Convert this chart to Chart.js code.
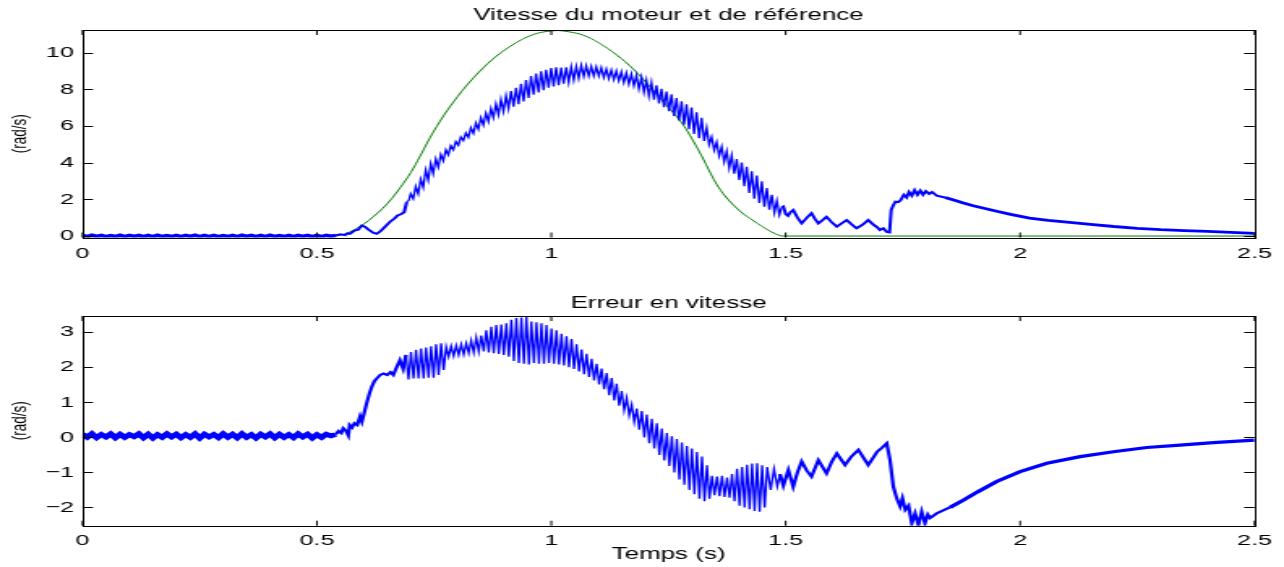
<!DOCTYPE html>
<html><head><meta charset="utf-8">
<script src="https://cdn.jsdelivr.net/npm/chart.js@4.4.0/dist/chart.umd.min.js"></script>
<style>
html,body{margin:0;padding:0;background:#fff;width:1284px;height:567px;overflow:hidden;position:relative}
canvas{position:absolute;left:0;display:block}
</style></head><body>
<canvas id="c1" width="792" height="280" style="top:0px;width:1284px;height:280px"></canvas>
<canvas id="c2" width="792" height="287" style="top:280px;width:1284px;height:287px"></canvas>
<script>
// ---------- ticks ----------
const tickX = [0, 0.5, 1, 1.5, 2, 2.5];
const tickYTop = [0, 2, 4, 6, 8, 10];
const tickYBot = [-2, -1, 0, 1, 2, 3];

// ---------- reference speed (green) ----------
const refT = [0, 0.535, 0.56, 0.58, 0.6, 0.62, 0.64, 0.66, 0.678, 0.7, 0.72, 0.741, 0.77, 0.8, 0.82, 0.85, 0.88, 0.91, 0.94, 0.97, 1.0, 1.015, 1.04, 1.068, 1.1, 1.14, 1.175, 1.2105, 1.245, 1.2816, 1.3, 1.32, 1.34, 1.353, 1.37, 1.39, 1.41, 1.424, 1.44, 1.46, 1.48, 1.494, 2.5];
const refV = [0, 0, 0.12, 0.35, 0.65, 1.05, 1.5, 2.05, 2.65, 3.45, 4.35, 5.35, 6.55, 7.6, 8.23, 9.05, 9.75, 10.3, 10.75, 11.05, 11.18, 11.2, 11.12, 10.95, 10.55, 9.86, 9.1, 8.14, 7.15, 6.05, 5.3, 4.4, 3.4, 2.8, 2.2, 1.65, 1.2, 0.96, 0.68, 0.36, 0.1, 0, 0];

// ---------- motor speed (blue) ----------
const speedFlatStart = 0, speedFlatStep = 0.01;
const speedFlat = [0.03,-0.03,0.04,-0.02,0.03,-0.04,0.02,-0.03,0.04,-0.03,0.03,-0.02,0.03,-0.04,0.03,-0.03,0.04,-0.03,0.02,-0.03,0.03,-0.03,0.03,-0.02,0.04,-0.03,0.03,-0.03,0.03,-0.04,0.02,-0.03,0.03,-0.03,0.04,-0.02,0.03,-0.03,0.03,-0.03,0.04,-0.03,0.02,-0.03,0.03,-0.04,0.03,-0.02,0.03,-0.03,0.03,-0.03,0.03,-0.01];
const speedRiseT = [0.54,0.55,0.56,0.565,0.57,0.58,0.588,0.596,0.603,0.61,0.62,0.6275,0.635,0.645,0.656,0.665,0.672,0.68,0.686,0.6915,0.696];
const speedRiseV = [0.03,0.1,0.05,0.14,0.12,0.3,0.35,0.58,0.5,0.35,0.18,0.12,0.25,0.5,0.78,0.95,1.12,1.2,1.3,1.85,1.95];
const speedOscStart = 0.70, speedOscStep = 0.00535;
const speedOsc = [
 2.30,2.03,2.7,2.3,3.1,2.65,3.6,3.05,3.95,3.4,
 4.2,3.75,4.45,4.1,4.7,4.42,4.92,4.7,5.15,4.95,
 5.4,5.2,5.62,5.38,5.9,5.6,6.17,5.82,6.45,6.05,
 6.7,6.25,6.95,6.45,7.2,6.62,7.45,6.8,7.65,6.95,
 7.9,7.05,8.08,7.18,8.3,7.33,8.5,7.52,8.72,7.7,
 8.85,7.82,8.98,7.95,9.06,8.08,9.15,8.15,9.2,8.22,
 9.18,8.3,9.2,8.38,9.22,8.5,9.25,8.6,9.3,8.7,
 9.28,8.72,9.25,8.72,9.22,8.72,9.18,8.65,9.1,8.58,
 9.05,8.53,9.0,8.47,8.95,8.37,8.88,8.28,8.83,8.2,
 8.75,8.02,8.65,7.83,8.5,7.62,8.37,7.43,8.22,7.23,
 8.03,7.02,7.87,6.8,7.72,6.54,7.52,6.3,7.35,6.07,
 7.18,5.82,7.0,5.57,6.75,5.33,6.45,5.18,5.9,4.98,
 5.4,4.68,5.12,4.36,4.87,4.04,4.62,3.7,4.4,3.4,
 4.2,3.05,4.0,2.72,3.77,2.35,3.53,2.04,3.3,1.8,
 2.98,1.6,2.62,1.43,2.25,1.27,1.92,1.15];
const speedTailT = [1.491,1.495,1.5,1.505,1.51,1.516,1.525,1.534,1.545,1.555,1.562,1.5696,1.578,1.587,1.598,1.609,1.62,1.63,1.64,1.651,1.663,1.676,1.688,1.695,1.701,1.708,1.7155,1.7215,1.725,1.729,1.734,1.74,1.745,1.752,1.758,1.763,1.769,1.775,1.781,1.787,1.793,1.799,1.806,1.812,1.822,1.84,1.86,1.879,1.9,1.925,1.95,1.98,2.02,2.06,2.1,2.15,2.2,2.25,2.3,2.35,2.4,2.45,2.5];
const speedTailV = [1.55,1.6,1.2,1.1,1.3,1.42,1.0,0.69,1.0,1.24,0.95,0.69,0.85,1.05,0.75,0.51,0.7,0.87,0.65,0.42,0.6,0.87,0.6,0.48,0.33,0.42,0.23,0.2,1.42,1.65,1.87,1.85,1.95,2.25,2.1,2.4,2.2,2.5,2.25,2.48,2.25,2.45,2.3,2.4,2.2,2.1,1.95,1.8,1.65,1.5,1.35,1.18,0.98,0.85,0.76,0.64,0.52,0.42,0.35,0.3,0.25,0.2,0.15];

// ---------- speed error (blue, bottom) ----------
const errFlatStart = 0, errFlatStep = 0.01;
const errFlat = [0.09,0.0,0.1,-0.01,0.08,0.01,0.1,-0.01,0.09,0.0,0.08,0.02,0.1,-0.01,0.09,-0.02,0.08,0.0,0.1,0.01,0.09,-0.01,0.08,0.0,0.1,-0.02,0.09,0.01,0.08,-0.01,0.1,0.0,0.09,-0.01,0.1,0.0,0.08,-0.02,0.09,0.01,0.1,-0.01,0.09,0.0,0.08,-0.01,0.1,0.01,0.09,-0.02,0.08,0.0,0.09,0.04];
const errRiseT = [0.54,0.546,0.552,0.556,0.562,0.567,0.5698,0.575,0.58,0.586,0.592,0.596,0.601,0.606,0.612,0.617,0.6225,0.6275,0.635,0.642,0.65,0.657,0.663,0.67,0.677,0.684];
const errRiseV = [0.08,0.18,0.12,0.26,0.18,0.05,0.35,0.28,0.4,0.35,0.6,0.45,0.7,0.97,1.25,1.44,1.6,1.68,1.78,1.82,1.78,1.86,1.78,2.0,2.2,1.95];
const errOscStart = 0.69, errOscStep = 0.00535;
const errOsc = [
 2.35,1.65,2.43,1.68,2.5,1.68,2.53,1.68,2.56,1.7,
 2.6,1.7,2.65,1.78,2.68,1.92,2.58,2.3,2.6,2.32,
 2.62,2.35,2.65,2.36,2.68,2.4,2.76,2.42,2.85,2.45,
 2.9,2.45,3.05,2.42,3.15,2.4,3.2,2.38,3.22,2.35,
 3.25,2.3,3.35,2.18,3.4,2.12,3.42,2.1,3.45,2.08,
 3.3,2.12,3.28,2.1,3.25,2.1,3.2,2.12,3.1,2.1,
 3.05,2.08,2.95,2.05,2.88,2.0,2.8,1.95,2.65,1.88,
 2.5,1.8,2.38,1.72,2.24,1.62,2.1,1.51,1.96,1.37,
 1.83,1.2,1.69,1.05,1.53,0.9,1.32,0.77,1.12,0.62,
 0.93,0.44,0.82,0.22,0.75,0.0,0.65,-0.17,0.53,-0.32,
 0.4,-0.5,0.25,-0.66,0.12,-0.82,0.03,-1.0,-0.05,-1.2,
 -0.15,-1.35,-0.25,-1.5,-0.32,-1.62,-0.42,-1.75,-0.55,-1.82,
 -0.8,-1.75,-1.1,-1.65,-1.12,-1.68,-1.1,-1.7,-1.15,-1.72,
 -1.05,-1.82,-0.9,-1.95,-0.85,-2.0,-0.78,-2.05,-0.75,-2.1,
 -0.74,-2.12,-0.8,-2.0,-0.85];
const errTailT = [1.468,1.475,1.482,1.488,1.495,1.5056,1.516,1.525,1.534,1.545,1.555,1.5696,1.587,1.598,1.609,1.6265,1.64,1.655,1.676,1.695,1.705,1.7155,1.7225,1.7296,1.7368,1.744,1.749,1.755,1.762,1.769,1.776,1.783,1.79,1.797,1.803,1.808,1.822,1.85,1.879,1.91,1.95,2.0,2.057,2.128,2.199,2.27,2.341,2.412,2.5];
const errTailV = [-1.5,-0.9,-1.4,-1.05,-1.38,-0.93,-1.41,-1.0,-0.69,-0.95,-1.12,-0.65,-1.03,-0.7,-0.46,-0.79,-0.55,-0.36,-0.79,-0.41,-0.3,-0.17,-0.65,-1.41,-1.74,-1.97,-1.74,-2.07,-1.95,-2.45,-2.17,-2.5,-2.12,-2.45,-2.2,-2.3,-2.17,-2.0,-1.79,-1.55,-1.26,-0.98,-0.74,-0.55,-0.41,-0.29,-0.22,-0.15,-0.08];

// ---------- helpers ----------
const uniform = (t0, dt, vals) => vals.map((v, i) => ({x: +(t0 + i * dt).toFixed(5), y: v}));
const paired = (ts, vs) => ts.map((t, i) => ({x: t, y: vs[i]}));

const refData = paired(refT, refV);
const speedData = [].concat(uniform(speedFlatStart, speedFlatStep, speedFlat), paired(speedRiseT, speedRiseV), uniform(speedOscStart, speedOscStep, speedOsc), paired(speedTailT, speedTailV));
const errData = [].concat(uniform(errFlatStart, errFlatStep, errFlat), paired(errRiseT, errRiseV), uniform(errOscStart, errOscStep, errOsc), paired(errTailT, errTailV));

const FONT = "'Liberation Sans', Arial, Helvetica, sans-serif";
Chart.defaults.font.family = FONT;
Chart.defaults.color = '#000';

// line thickness by region (noisy flat parts are drawn heavier)
const widthBy = (flatW, oscW, midW, tailW) => c => {
  const x = c.p0.parsed.x;
  if (x < 0.535) return flatW;
  if (x >= 0.69 && x < 1.488) return oscW;
  if (x >= 1.83) return tailW;
  return midW;
};

const framePlugin = {
  id: 'frame',
  afterDatasetsDraw(chart) {
    const {ctx, chartArea: a, scales: {x, y}} = chart;
    ctx.save();
    ctx.strokeStyle = '#000';
    ctx.lineWidth = 1;
    ctx.beginPath();
    x.ticks.forEach(t => {
      const px = x.getPixelForValue(t.value);
      ctx.moveTo(px, a.bottom); ctx.lineTo(px, a.bottom - 5);
      ctx.moveTo(px, a.top); ctx.lineTo(px, a.top + 5);
    });
    y.ticks.forEach(t => {
      const py = Math.round(y.getPixelForValue(t.value)) + 0.5;
      ctx.moveTo(a.left, py); ctx.lineTo(a.left + 6.4, py);
      ctx.moveTo(a.right, py); ctx.lineTo(a.right - 6.4, py);
    });
    ctx.stroke();
    ctx.strokeRect(Math.round(a.left) + 0.5, Math.round(a.top) + 0.5, Math.round(a.right - a.left), Math.round(a.bottom - a.top));
    ctx.restore();
  }
};

function makeChart(id, cfg) {
  const canvas = document.getElementById(id);
  const ch = new Chart(canvas, {
    type: 'line',
    data: {datasets: cfg.datasets},
    options: {
      responsive: false,
      devicePixelRatio: 1,
      animation: false,
      events: [],
      layout: {padding: {left: 0, right: 18.2, top: 0, bottom: 0}},
      elements: {point: {radius: 0}, line: {tension: 0}},
      plugins: {
        legend: {display: false},
        tooltip: {enabled: false},
        title: {display: true, fullSize: false, text: cfg.title, color: '#000',
          font: {family: FONT, size: 16, weight: 'normal'}, padding: cfg.titlePad}
      },
      scales: {
        x: {
          type: 'linear', min: 0, max: 2.5,
          grid: {display: false, drawTicks: false},
          border: {display: false},
          afterBuildTicks: s => { s.ticks = tickX.map(v => ({value: v})); },
          afterFit: s => { s.height = cfg.xHeight; },
          ticks: {color: '#000', font: {family: FONT, size: 15.5}, padding: cfg.xTickPad, maxRotation: 0,
            callback: v => String(v)},
          title: cfg.xTitle ? {display: true, text: cfg.xTitle, color: '#000',
            font: {family: FONT, size: 16}, padding: {top: 0, bottom: cfg.xTitlePad}} : {display: false}
        },
        y: {
          type: 'linear', min: cfg.yMin, max: cfg.yMax,
          grid: {display: false, drawTicks: false},
          border: {display: false},
          afterBuildTicks: s => { s.ticks = cfg.yTicks.map(v => ({value: v})); },
          afterFit: s => { s.width = 50.9; },
          ticks: {color: '#000', font: {family: FONT, size: 15.5}, padding: 5.3,
            callback: v => v < 0 ? '\u2212' + Math.abs(v) : String(v)},
          title: {display: true, text: '(rad/s)', color: '#000',
            font: {family: FONT, size: 13.5}, padding: {top: 3.9, bottom: 0}}
        }
      }
    },
    plugins: [framePlugin]
  });
  canvas.style.width = '1284px';
  return ch;
}

makeChart('c1', {
  title: 'Vitesse du moteur et de référence',
  titlePad: {top: 5.5, bottom: 5.3},
  xHeight: 42.5, xTickPad: 6.5,
  yMin: -0.08, yMax: 11.23, yTicks: tickYTop,
  datasets: [
    {data: speedData, borderColor: '#0000ff', borderWidth: 1.5, parsing: false,
     segment: {borderWidth: widthBy(3.6, 1.3, 2.0, 2.8)}},
    {data: refData, borderColor: '#008000', borderWidth: 1, cubicInterpolationMode: 'monotone', parsing: false}
  ]
});

makeChart('c2', {
  title: 'Erreur en vitesse',
  titlePad: {top: 14, bottom: 2.8},
  xHeight: 41.3, xTickPad: 5.7,
  xTitle: 'Temps (s)', xTitlePad: 2.4,
  yMin: -2.52, yMax: 3.46, yTicks: tickYBot,
  datasets: [
    {data: errData, borderColor: '#0000ff', borderWidth: 1.5, parsing: false,
     segment: {borderWidth: widthBy(4.6, 1.3, 2.2, 3.2)}}
  ]
});
</script>
</body></html>
